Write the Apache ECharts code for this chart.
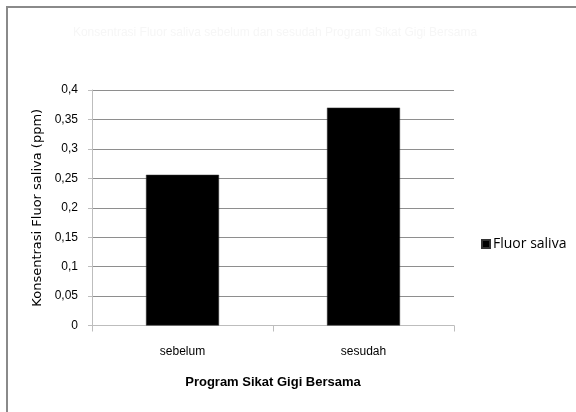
<!DOCTYPE html>
<html>
<head>
<meta charset="utf-8">
<script src="https://cdn.jsdelivr.net/npm/echarts@6/dist/echarts.min.js"></script>
<style>
  html, body { margin: 0; padding: 0; background: #fff; }
  #chart { width: 576px; height: 412px; }
</style>
</head>
<body>
<div id="chart"></div>
<script>
// Saliva fluoride concentration before and after the group tooth-brushing programme
const categories = ['sebelum', 'sesudah'];
const fluorSaliva = [0.256, 0.37];
const yTicks = [0, 0.05, 0.1, 0.15, 0.2, 0.25, 0.3, 0.35, 0.4];
const seriesName = 'Fluor saliva';
const chartTitle = 'Konsentrasi Fluor saliva sebelum dan sesudah Program Sikat Gigi Bersama';

const fmt = v => String(Number(v.toFixed(2))).replace('.', ',');

const chart = echarts.init(document.getElementById('chart'), null, { renderer: 'canvas' });
chart.setOption({
  animation: false,
  backgroundColor: '#ffffff',
  textStyle: { fontFamily: 'Liberation Sans, Arial, sans-serif' },
  title: {
    text: chartTitle,
    left: 270, top: 22, textAlign: 'center',
    textStyle: { color: '#f6f6f6', fontSize: 12, fontWeight: 'normal' }
  },
  graphic: [{
    type: 'rect',
    shape: { x: 7, y: 7, width: 580, height: 420 },
    style: { fill: 'none', stroke: '#8a8a8a', lineWidth: 2 },
    silent: true, z: -1
  }],
  legend: {
    data: [seriesName],
    left: 476, top: 232,
    itemWidth: 8, itemHeight: 8, itemGap: 2,
    icon: 'rect',
    textStyle: { fontSize: 14, color: '#000', fontFamily: 'Open Sans, sans-serif', padding: [0, 0, 0, -2] }
  },
  grid: { left: 92, top: 90, width: 362, height: 235.5, containLabel: false },
  xAxis: {
    type: 'category',
    data: categories,
    name: 'Program Sikat Gigi Bersama',
    nameLocation: 'middle',
    nameGap: 50,
    nameTextStyle: { fontSize: 13, fontWeight: 'bold', color: '#000' },
    axisLine: { lineStyle: { color: '#bdbdbd', width: 1 } },
    axisTick: { show: true, alignWithLabel: false, length: 6, lineStyle: { color: '#bdbdbd' } },
    axisLabel: { fontSize: 12, color: '#000', margin: 20 }
  },
  yAxis: {
    type: 'value',
    min: yTicks[0], max: yTicks[yTicks.length - 1], interval: 0.05,
    name: 'Konsentrasi Fluor saliva (ppm)',
    nameLocation: 'middle',
    nameGap: 40,
    nameTextStyle: { fontSize: 13, color: '#000', fontFamily: 'DejaVu Sans, sans-serif' },
    axisLine: { show: true, lineStyle: { color: '#bdbdbd' } },
    axisTick: { show: true, length: 4, lineStyle: { color: '#bdbdbd' } },
    axisLabel: { fontSize: 12, color: '#000', margin: 14, formatter: fmt },
    splitLine: { lineStyle: { color: '#8e8e8e', width: 1 } }
  },
  series: [{
    name: seriesName,
    type: 'bar',
    data: fluorSaliva,
    barWidth: 73,
    itemStyle: { color: '#000000', borderColor: '#333', borderWidth: 0.5 }
  }]
});
</script>
</body>
</html>
